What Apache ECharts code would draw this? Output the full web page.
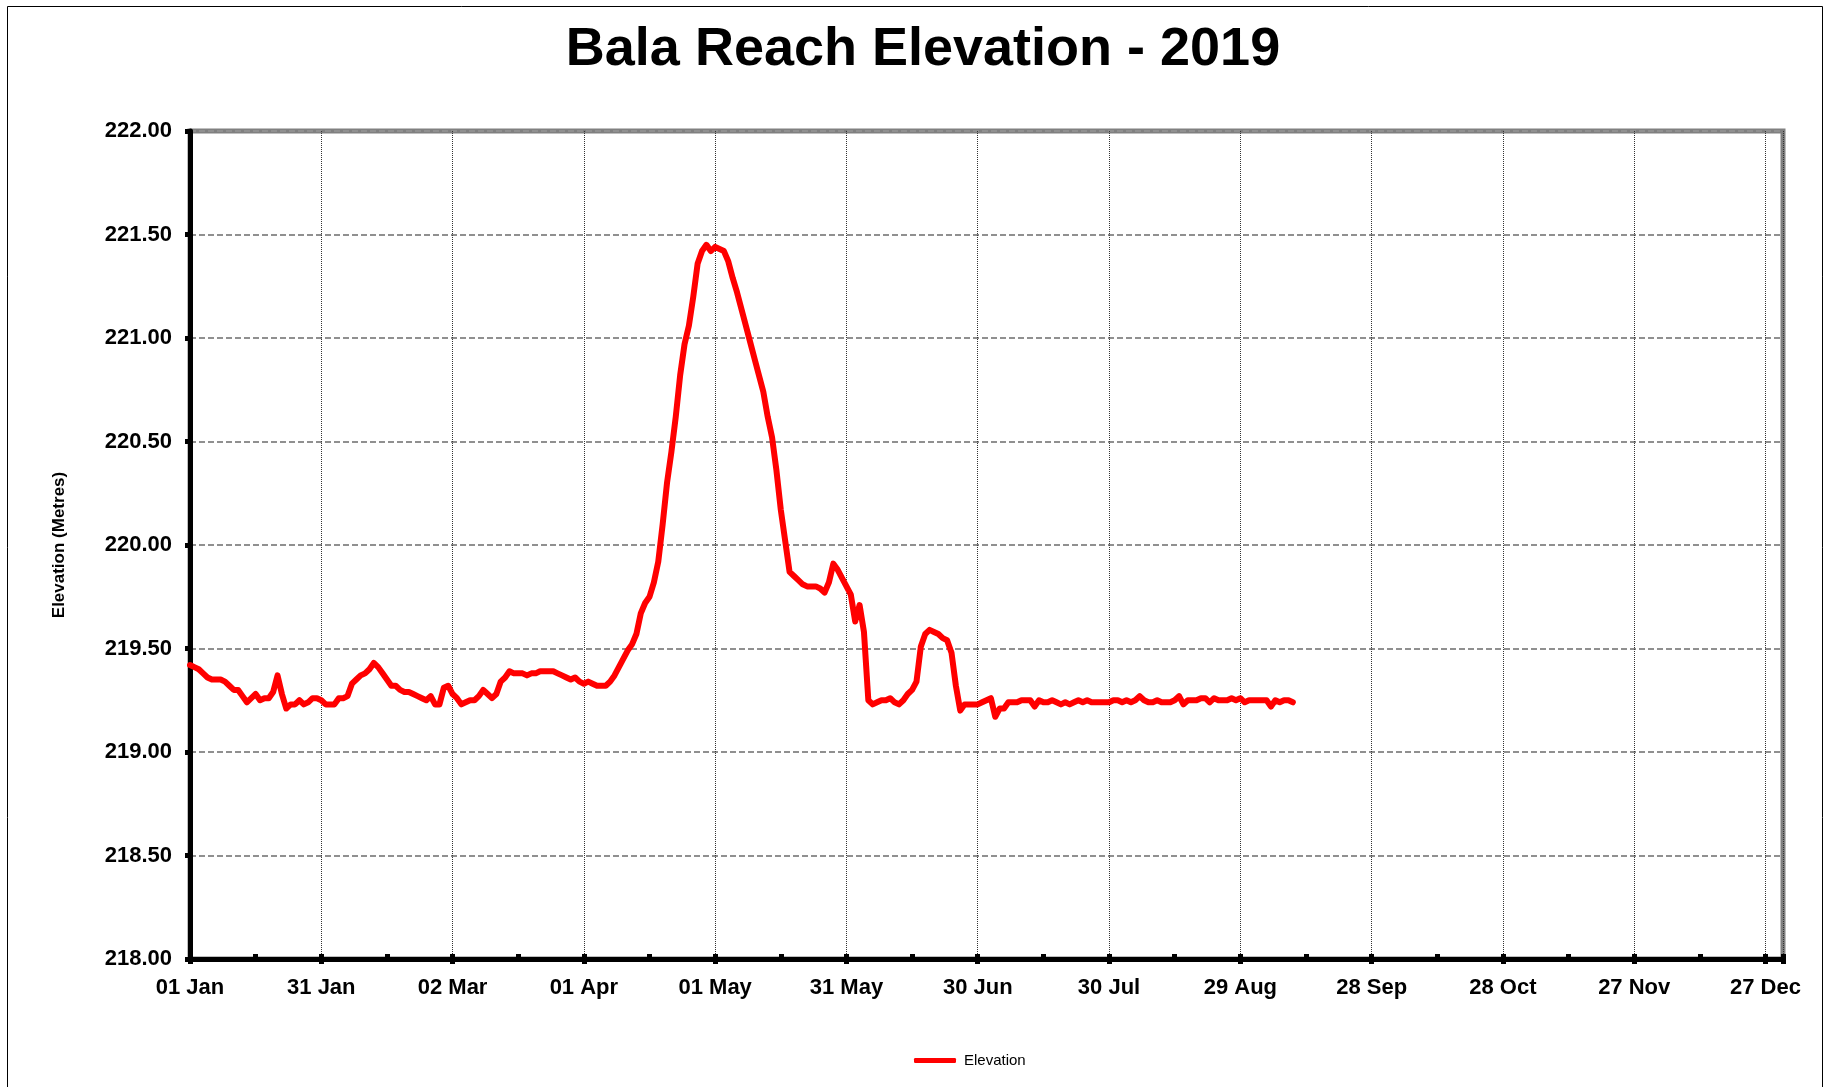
<!DOCTYPE html>
<html>
<head>
<meta charset="utf-8">
<title>Bala Reach Elevation - 2019</title>
<script src="https://cdn.jsdelivr.net/npm/echarts@6/dist/echarts.min.js"></script>
<style>
  html, body { margin: 0; padding: 0; background: #fff; }
  #chart { width: 1835px; height: 1087px; }
</style>
</head>
<body>
<div id="chart"></div>
<script>
// day offset from 01 Jan 2019, and daily reach elevation (m)
var days = [];
for (var d = 0; d <= 252; d++) { days.push(d); }

var elevation = [
  219.42, 219.41, 219.40, 219.38, 219.36, 219.35, 219.35, 219.35, 219.34, 219.32,
  219.30, 219.30, 219.27, 219.24, 219.26, 219.28, 219.25, 219.26, 219.26, 219.29,
  219.37, 219.28, 219.21, 219.23, 219.23, 219.25, 219.23, 219.24, 219.26, 219.26,
  219.25, 219.23, 219.23, 219.23, 219.26, 219.26, 219.27, 219.33, 219.35, 219.37,
  219.38, 219.40, 219.43, 219.41, 219.38, 219.35, 219.32, 219.32, 219.30, 219.29,
  219.29, 219.28, 219.27, 219.26, 219.25, 219.27, 219.23, 219.23, 219.31, 219.32,
  219.28, 219.26, 219.23, 219.24, 219.25, 219.25, 219.27, 219.30, 219.28, 219.26,
  219.28, 219.34, 219.36, 219.39, 219.38, 219.38, 219.38, 219.37, 219.38, 219.38,
  219.39, 219.39, 219.39, 219.39, 219.38, 219.37, 219.36, 219.35, 219.36, 219.34,
  219.33, 219.34, 219.33, 219.32, 219.32, 219.32, 219.34, 219.37, 219.41, 219.45,
  219.49, 219.52, 219.57, 219.67, 219.72, 219.75, 219.82, 219.92, 220.10, 220.30,
  220.45, 220.62, 220.82, 220.97, 221.06, 221.20, 221.36, 221.42, 221.45, 221.42,
  221.44, 221.43, 221.42, 221.37, 221.29, 221.22, 221.14, 221.06, 220.98, 220.90,
  220.82, 220.74, 220.62, 220.52, 220.36, 220.17, 220.02, 219.87, 219.85, 219.83,
  219.81, 219.80, 219.80, 219.80, 219.79, 219.77, 219.82, 219.91, 219.88, 219.84,
  219.80, 219.76, 219.63, 219.71, 219.58, 219.25, 219.23, 219.24, 219.25, 219.25,
  219.26, 219.24, 219.23, 219.25, 219.28, 219.30, 219.34, 219.51, 219.57, 219.59,
  219.58, 219.57, 219.55, 219.54, 219.48, 219.32, 219.20, 219.23, 219.23, 219.23,
  219.23, 219.24, 219.25, 219.26, 219.17, 219.21, 219.21, 219.24, 219.24, 219.24,
  219.25, 219.25, 219.25, 219.22, 219.25, 219.24, 219.24, 219.25, 219.24, 219.23,
  219.24, 219.23, 219.24, 219.25, 219.24, 219.25, 219.24, 219.24, 219.24, 219.24,
  219.24, 219.25, 219.25, 219.24, 219.25, 219.24, 219.25, 219.27, 219.25, 219.24,
  219.24, 219.25, 219.24, 219.24, 219.24, 219.25, 219.27, 219.23, 219.25, 219.25,
  219.25, 219.26, 219.26, 219.24, 219.26, 219.25, 219.25, 219.25, 219.26, 219.25,
  219.26, 219.24, 219.25, 219.25, 219.25, 219.25, 219.25, 219.22, 219.25, 219.24,
  219.25, 219.25, 219.24
];

var months = ['Jan', 'Feb', 'Mar', 'Apr', 'May', 'Jun', 'Jul', 'Aug', 'Sep', 'Oct', 'Nov', 'Dec'];

function dayLabel(v) {
  if (v % 30 !== 0) return '';
  var dt = new Date(2019, 0, 1 + v);
  var dd = dt.getDate();
  return (dd < 10 ? '0' + dd : dd) + ' ' + months[dt.getMonth()];
}

var seriesData = days.map(function (d, i) { return [d, elevation[i]]; });

var chart = echarts.init(document.getElementById('chart'));
var font = 'Liberation Sans, Arial, sans-serif';

var option = {
  backgroundColor: '#fff',
  animation: false,
  graphic: [{
    type: 'rect',
    shape: { x: 7.5, y: 6.5, width: 1815, height: 1100 },
    style: { fill: 'none', stroke: '#000', lineWidth: 1 },
    silent: true
  }],
  title: {
    text: 'Bala Reach Elevation - 2019',
    left: 923,
    textAlign: 'center',
    top: 23,
    padding: 0,
    textStyle: { fontFamily: font, fontSize: 54, fontWeight: 'bold', color: '#000' }
  },
  legend: {
    left: 909,
    top: 1048,
    itemWidth: 42,
    itemHeight: 5,
    itemGap: 10,
    data: [{ name: 'Elevation', icon: 'roundRect' }],
    textStyle: { fontFamily: font, fontSize: 15, color: '#000', padding: [0, 0, 0, 3] }
  },
  grid: {
    left: 190,
    right: 52,
    top: 131,
    bottom: 128,
    show: true,
    borderColor: '#808080',
    borderWidth: 5
  },
  xAxis: [
    {
      type: 'value',
      min: 0,
      max: 364,
      interval: 30,
      axisLine: { show: true, lineStyle: { color: '#000', width: 5 } },
      axisTick: { show: true, length: 5, lineStyle: { color: '#000', width: 5 } },
      axisLabel: {
        margin: 18,
        fontFamily: font,
        fontSize: 22,
        fontWeight: 'bold',
        color: '#000',
        formatter: dayLabel
      },
      splitLine: { show: true, lineStyle: { color: '#333', width: 1, type: 'dotted' } }
    },
    {
      // small inside ticks every 15 days
      type: 'value',
      min: 0,
      max: 364,
      interval: 15,
      position: 'bottom',
      axisLine: { show: false },
      axisTick: { show: true, inside: true, length: 5, lineStyle: { color: '#000', width: 5 } },
      axisLabel: { show: false },
      splitLine: { show: false }
    }
  ],
  yAxis: {
    type: 'value',
    min: 218,
    max: 222,
    interval: 0.5,
    name: 'Elevation (Metres)',
    nameLocation: 'middle',
    nameGap: 122,
    nameRotate: 90,
    nameTextStyle: { fontFamily: font, fontSize: 17, fontWeight: 'bold', color: '#000' },
    axisLine: { show: true, lineStyle: { color: '#000', width: 5 } },
    axisTick: { show: true, length: 5, lineStyle: { color: '#000', width: 5 } },
    axisLabel: {
      margin: 18,
      fontFamily: font,
      fontSize: 22,
      fontWeight: 'bold',
      color: '#000',
      formatter: function (v) { return v.toFixed(2); }
    },
    splitLine: { show: true, lineStyle: { color: '#909090', width: 2, type: [6, 3] } }
  },
  series: [{
    name: 'Elevation',
    type: 'line',
    xAxisIndex: 0,
    data: seriesData,
    symbol: 'none',
    smooth: false,
    lineStyle: { color: '#ff0000', width: 6, cap: 'round', join: 'round' },
    itemStyle: { color: '#ff0000' }
  }]
};

chart.setOption(option);
</script>
</body>
</html>
